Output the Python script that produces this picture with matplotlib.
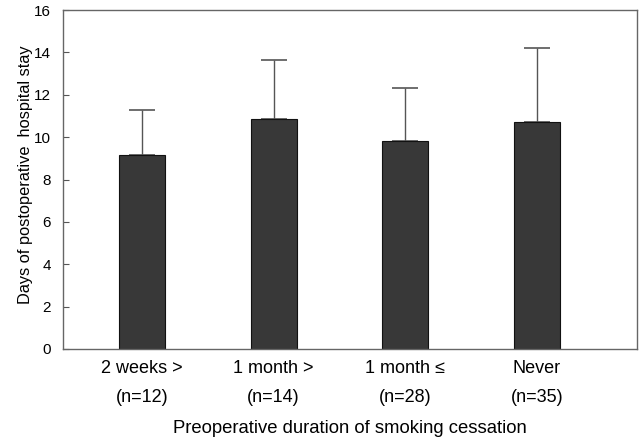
import matplotlib
matplotlib.use("Agg")
import matplotlib.pyplot as plt
import numpy as np

categories = ["2 weeks >\n(n=12)", "1 month >\n(n=14)", "1 month ≤\n(n=28)", "Never\n(n=35)"]
means = [9.15, 10.85, 9.81, 10.7]
sd_upper = [2.12, 2.78, 2.50, 3.50]

plt.rcParams['font.family'] = ['Liberation Sans', 'DejaVu Sans']

fig = plt.figure(figsize=(6.42, 4.41), dpi=100)
ax = fig.add_axes([63/642, 1 - 349/441, (637-63)/642, (349-10)/441])

x = np.arange(len(categories))
ax.bar(x, means, width=0.35, color='#383838', edgecolor='#111111', linewidth=0.8, zorder=2)
ax.errorbar(x, means, yerr=[np.zeros(len(means)), sd_upper], fmt='none',
            ecolor='#555555', elinewidth=1.0, capsize=9.5, capthick=1.2, zorder=1)

ax.set_xlim(-0.6, 3.76)
ax.set_ylim(0, 16)
ax.set_yticks(np.arange(0, 17, 2))
ax.set_xticks(x)
ax.set_xticklabels(categories, fontsize=13, linespacing=1.95)
ax.tick_params(axis='x', length=0, pad=8)
ax.tick_params(axis='y', direction='in', length=4, labelsize=11, color='#555555', pad=8.5)
for s in ax.spines.values():
    s.set_color('#666666')
    s.set_linewidth(1.0)

ax.set_ylabel("Days of postoperative  hospital stay", fontsize=11.8, labelpad=1)
ax.yaxis.set_label_coords(-0.052, 0.515)
ax.set_xlabel("Preoperative duration of smoking cessation", fontsize=13.3, labelpad=10)

fig.savefig("out.png", dpi=100)
